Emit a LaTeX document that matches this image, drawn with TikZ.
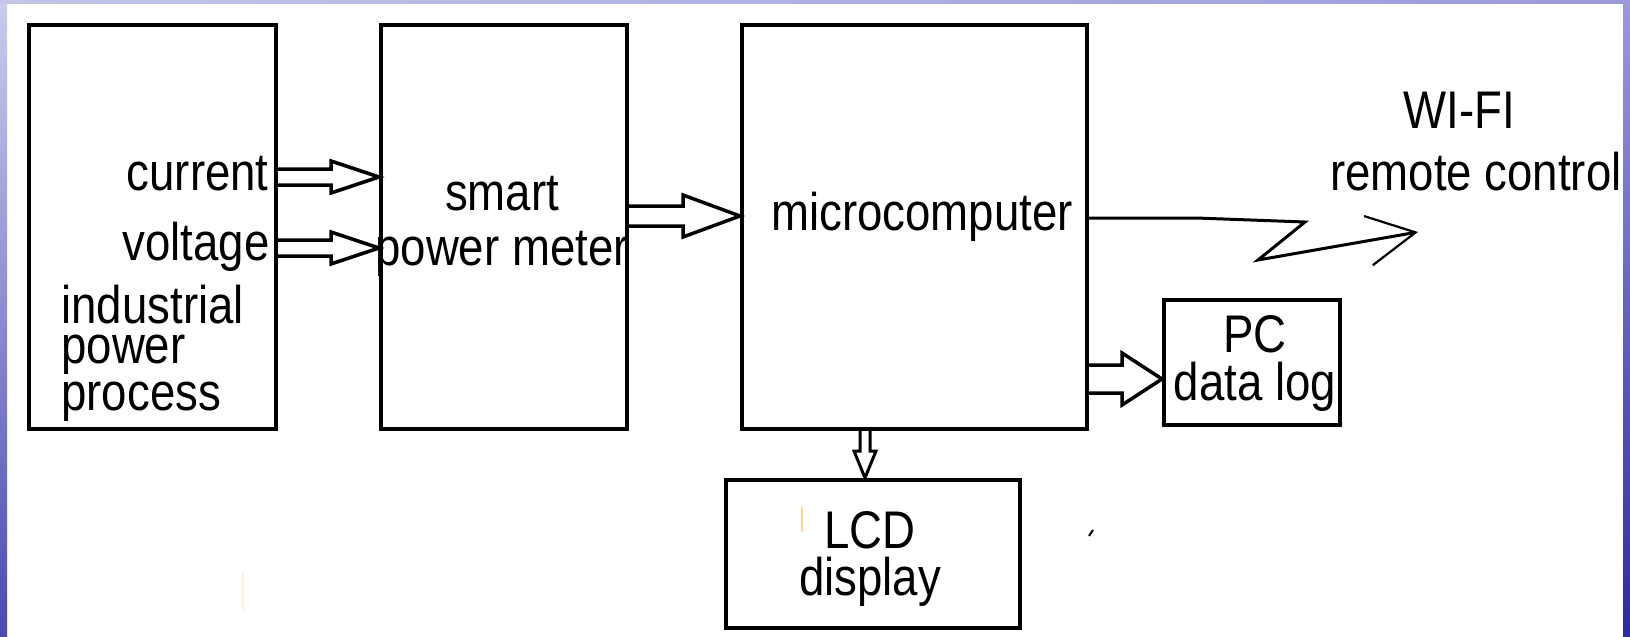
\documentclass[tikz,border=0pt]{standalone}
\usepackage{fontspec}
\setmainfont[FakeStretch=0.86]{Liberation Sans}
\usetikzlibrary{positioning, calc, arrows.meta}
\definecolor{frametop}{HTML}{C4C4EA}
\definecolor{frameleft}{HTML}{CBCBEE}
\definecolor{framedeep}{HTML}{4A4AB2}
\definecolor{frameright}{HTML}{9A9ADC}
\definecolor{framedark}{HTML}{2B2BA3}
\definecolor{speck}{HTML}{FDD98D}

\tikzset{
  block/.style={draw, line width=2pt, inner sep=0pt},
  txt/.style={anchor=base, inner sep=0pt, font=\fontsize{26.5}{30}\selectfont},
  hollow/.style={line width=1.75pt, line join=miter},
}

\begin{document}
\begin{tikzpicture}[x=0.5pt, y=-0.5pt]
  \useasboundingbox (0,0) rectangle (1630,637);
  % Frame
  \fill[white] (0,0) rectangle (1630,637);
  \shade[top color=frameleft, bottom color=framedeep] (0,0) rectangle (7,637);
  \shade[left color=frametop, right color=frameright] (0,0) rectangle (1630,3);
  \shade[top color=frameright, bottom color=framedark] (1623,0) rectangle (1630,637);

  % Blocks
  \node[block, minimum width=123.5pt, minimum height=202pt] (ind) at (152.5,227) {};
  \node[block, minimum width=123pt, minimum height=202pt] (meter) at (504,227) {};
  \node[block, minimum width=172.5pt, minimum height=202pt] (micro) at (914.5,227) {};
  \node[block, minimum width=88pt, minimum height=62.5pt] (pc) at (1252,362.5) {};
  \node[block, minimum width=147pt, minimum height=74pt] (lcd) at (873,554) {};

  % Texts (multi-line nodes sit on their last baseline)
  \node[txt, anchor=base east] (cur) at (269,190) {current};
  \node[txt, anchor=base east] (volt) at (270,260) {voltage};
  \node[txt, anchor=base west, align=left, font=\fontsize{26.5}{20}\selectfont]
    (indtxt) at (61,410) {industrial\\power\\[3.5pt]process};
  \node[txt, align=center, font=\fontsize{26.5}{27.5}\selectfont]
    (metertxt) at (502,265) {smart\\power meter};
  \node[txt] (microtxt) at (922,230) {microcomputer};
  \node[txt] (wifiA) at (1459,128) {WI-FI};
  \node[txt] (wifiB) at (1476,190) {remote control};
  \node[txt, align=center, font=\fontsize{26.5}{24}\selectfont]
    (pctxt) at (1255,400) {PC\\data log};
  \node[txt, align=center, font=\fontsize{26.5}{23.5}\selectfont]
    (lcdtxt) at (870,595) {LCD\\display};

  % Hollow arrows
  \foreach \yy in {177,248} {
    \draw[hollow] ($(ind.east |- 0,\yy)+(0,-8)$) -- ($(meter.west |- 0,\yy)+(-48,-8)$)
      -- ++(0,-8) -- (meter.west |- 0,\yy) -- ++(-48,16) -- ++(0,-8)
      -- ($(ind.east |- 0,\yy)+(0,8)$);
  }
  \draw[hollow] ($(meter.east |- 0,216)+(0,-10)$) -- ($(micro.west |- 0,216)+(-57,-10)$)
    -- ++(0,-11) -- (micro.west |- 0,216) -- ++(-57,21) -- ++(0,-11)
    -- ($(meter.east |- 0,216)+(0,10)$);
  \draw[hollow] ($(micro.east |- 0,379)+(0,-14)$) -- ($(pc.west |- 0,379)+(-40,-14)$)
    -- ++(0,-12) -- (pc.west |- 0,379) -- ++(-40,26) -- ++(0,-12)
    -- ($(micro.east |- 0,379)+(0,14)$);
  \draw[hollow, line width=1.5pt] ($(micro.south -| 865,0)+(-5,0)$) -- ($(lcd.north -| 865,0)+(-5,-27)$)
    -- ++(-6,0) -- (lcd.north -| 865,0) -- ++(11,-27) -- ++(-6,0)
    -- ($(micro.south -| 865,0)+(5,0)$);

  % Wireless link
  \coordinate (wifi) at (1418,232);
  \draw[line width=1.5pt, -{Straight Barb[length=24pt, width=25pt, line width=1.1pt]}]
    (micro.east |- 0,218) -- ++(107,0) -- ++(109,4) -- ++(-47,38) -- (wifi);

  % Specks
  \draw[speck!40, line width=1pt] (243,573) -- (243,610);
  \draw[speck, line width=1pt] (802,507) -- (802,532);
  \draw[line width=1pt] (1089,536) -- (1093,530);
\end{tikzpicture}
\end{document}
